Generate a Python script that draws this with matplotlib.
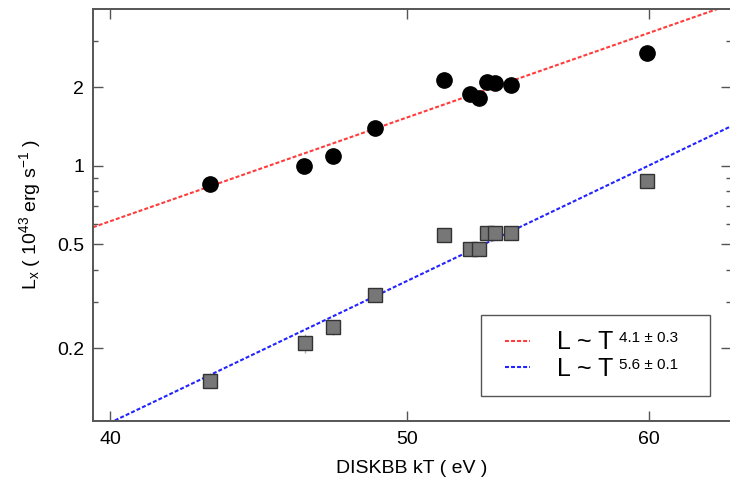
import numpy as np
import matplotlib
matplotlib.use("Agg")
import matplotlib.pyplot as plt
from matplotlib.ticker import FixedLocator, NullFormatter, FixedFormatter
from matplotlib.legend_handler import HandlerLine2D

plt.rcParams['font.family'] = ['Liberation Sans', 'DejaVu Sans']
plt.rcParams['mathtext.fontset'] = 'custom'
plt.rcParams['mathtext.rm'] = 'Liberation Sans'
plt.rcParams['mathtext.it'] = 'Liberation Sans:italic'

# Disk blackbody temperature (eV) and luminosities (1e43 erg/s)
kt_total = [43.12, 46.29, 47.29, 48.82, 51.42, 52.44, 52.80, 53.10, 53.43, 54.07, 59.92]
lx_total = [0.853, 1.00, 1.095, 1.394, 2.136, 1.889, 1.812, 2.092, 2.068, 2.036, 2.711]
lx_total_err = [0.02, 0.03, 0.03, 0.04, 0.05, 0.05, 0.05, 0.05, 0.05, 0.05, 0.12]

kt_disk = [43.12, 46.32, 47.29, 48.82, 51.42, 52.42, 52.80, 53.10, 53.43, 54.07, 59.92]
lx_disk = [0.150, 0.2097, 0.2406, 0.321, 0.542, 0.482, 0.482, 0.554, 0.554, 0.554, 0.873]
lx_disk_err = [0.004, 0.018, 0.016, 0.012, 0.02, 0.02, 0.02, 0.02, 0.02, 0.02, 0.03]

# Power-law fits L = norm * (kT / 50 eV)^index
fit_index = [4.1, 5.6]
fit_norm50 = [1.531, 0.3618]
fit_labels = ["L ~ T", "L ~ T"]
fit_sup = ["4.1 \u00b1 0.3", "5.6 \u00b1 0.1"]
fit_colors = ["#ff3b3b", "#2323ff"]

x_ticks = [40, 50, 60]
y_ticks = [0.2, 0.5, 1, 2]
y_tick_labels = ["0.2", "0.5", "1", "2"]
y_minor = [0.3, 0.4, 0.6, 0.7, 0.8, 0.9, 3]

fig = plt.figure(figsize=(7.30, 4.83), dpi=100)
ax = fig.add_axes([93 / 730, 1 - 421 / 483, 638 / 730, 412 / 483])
ax.set_xscale('log')
ax.set_yscale('log')
xlim = (39.49, 63.81)
ylim = (0.1053, 3.99)
ax.set_xlim(*xlim)
ax.set_ylim(*ylim)

# fitted power laws
xf = np.geomspace(xlim[0], xlim[1], 200)
handles = []
for idx, norm, col in zip(fit_index, fit_norm50, fit_colors):
    ln, = ax.plot(xf, norm * (xf / 50.0) ** idx, color=col, lw=1.5,
                  dashes=(1.9, 1.0), zorder=2)
    handles.append(ln)

# data with error bars
ax.errorbar(kt_total, lx_total, yerr=lx_total_err, fmt='none',
            ecolor='#b0b0b0', elinewidth=1.0, zorder=3)
ax.errorbar(kt_disk, lx_disk, yerr=lx_disk_err, fmt='none',
            ecolor='#b0b0b0', elinewidth=1.0, zorder=3)
ax.plot(kt_total, lx_total, 'o', ms=11, color='black', mec='black', zorder=4)
ax.plot(kt_disk, lx_disk, 's', ms=10, mfc='#777777', mec='#333333',
        mew=1.0, zorder=4)

# axes styling
for sp in ax.spines.values():
    sp.set_color('#555555')
    sp.set_linewidth(1.4)

ax.xaxis.set_major_locator(FixedLocator(x_ticks))
ax.xaxis.set_major_formatter(FixedFormatter([str(v) for v in x_ticks]))
ax.xaxis.set_minor_locator(FixedLocator([]))
ax.yaxis.set_major_locator(FixedLocator(y_ticks))
ax.yaxis.set_major_formatter(FixedFormatter(y_tick_labels))
ax.yaxis.set_minor_locator(FixedLocator(y_minor))
ax.yaxis.set_minor_formatter(NullFormatter())

ax.tick_params(which='both', direction='in', top=True, right=True,
               color='#555555', width=1.0, labelsize=14, labelcolor='black')
ax.tick_params(which='major', length=7)
ax.tick_params(which='minor', length=3.5)
ax.tick_params(axis='x', pad=7)
ax.tick_params(axis='y', pad=6.5)

ax.set_xlabel("DISKBB kT ( eV )", fontsize=14, labelpad=9)
ax.set_ylabel(r"L$_{\rm x}$ ( 10$^{43}$ erg s$^{-1}$ )", fontsize=14, labelpad=10)

leg = ax.legend(handles, fit_labels, loc='lower left',
                bbox_to_anchor=(0.6086, 0.0607, 0.3589, 0.191), mode='expand',
                fontsize=18, frameon=True, fancybox=False, framealpha=1,
                edgecolor='#555555', handlelength=1.36, handletextpad=1.08,
                borderpad=0.6, labelspacing=0.1, borderaxespad=0,
                handler_map={h: HandlerLine2D(xpad=0.36) for h in handles})
leg.get_frame().set_linewidth(1.0)

fig.canvas.draw()
for txt, sup in zip(leg.get_texts(), fit_sup):
    ax.annotate(sup, xy=(1, 0.97), xycoords=txt, xytext=(3.5, 0),
                textcoords='offset points', fontsize=11, va='top', ha='left',
                zorder=10)

fig.savefig("out.png", dpi=100)
